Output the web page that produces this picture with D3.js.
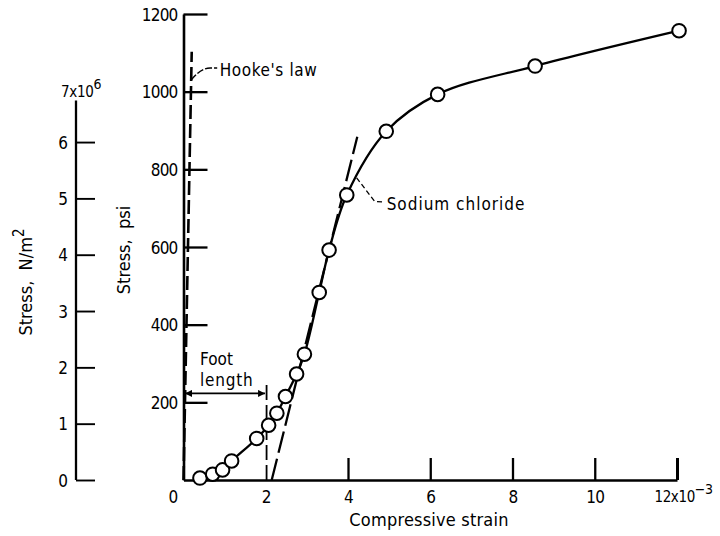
<!DOCTYPE html>
<html>
<head>
<meta charset="utf-8">
<script src="https://cdn.jsdelivr.net/npm/d3@7"></script>
<style>
  html, body { margin: 0; padding: 0; background: #fff; }
  svg { display: block; }
  text { font-family: "DejaVu Sans Condensed", "DejaVu Sans", sans-serif; fill: #000; }
</style>
</head>
<body>
<svg id="chart" width="720" height="536"></svg>
<script>
// ---- data ----
const strain = [0.40, 0.71, 0.95, 1.17, 1.78, 2.07, 2.27, 2.48, 2.75, 2.94, 3.30, 3.54, 3.97, 4.93, 6.18, 8.55, 12.05]; // x10^-3
const stress = [5, 15, 26, 49, 107, 141, 172, 215, 273, 324, 483, 592, 734, 898, 993, 1066, 1157]; // psi
const strainTicks = [0, 2, 4, 6, 8, 10, 12];
const psiTicks = [200, 400, 600, 800, 1000, 1200];
const paTicks = [0, 1, 2, 3, 4, 5, 6]; // x10^6 N/m^2
const hookeStrain = [0, 0.2];
const hookeStress = [0, 1103];
const tangentStrain = [2.145, 4.226];
const tangentStress = [0, 884];
const footLength = 2.02;     // x10^-3
const footArrowStress = 223; // psi
const footMarkTop = 245;     // psi
const PA_PER_PSI = 6894.76;

const FONT = "DejaVu Sans Condensed, DejaVu Sans, sans-serif";
const svg = d3.select("#chart");
svg.append("rect").attr("width", 720).attr("height", 536).attr("fill", "#fff");

const x = d3.scaleLinear().domain([0, 12]).range([183.5, 677]);
const y = d3.scaleLinear().domain([0, 1200]).range([480, 14]);
const yPa = d3.scaleLinear().domain([0, 7]).range([y(0), y(7e6 / PA_PER_PSI)]);

const lw = 2.3;
const fmt = d3.format("d");

// ---- psi axis ----
const gPsi = svg.append("g").attr("transform", `translate(${x(0)},0)`)
  .call(d3.axisLeft(y).tickValues(psiTicks).tickFormat(fmt).tickSizeInner(-24).tickSizeOuter(0).tickPadding(6));
gPsi.attr("font-family", FONT);
gPsi.select(".domain").attr("stroke", "#000").attr("stroke-width", 2.6);
gPsi.selectAll(".tick line").attr("stroke", "#000").attr("stroke-width", lw);
gPsi.selectAll(".tick text").attr("font-size", 17).attr("letter-spacing", -0.8).attr("dy", "0.36em");

// ---- N/m^2 axis ----
const gPa = svg.append("g").attr("transform", "translate(76,0)")
  .call(d3.axisLeft(yPa).tickValues(paTicks).tickFormat(fmt).tickSizeInner(-19).tickSizeOuter(0).tickPadding(8));
gPa.attr("font-family", FONT);
gPa.select(".domain").remove();
gPa.append("line").attr("x1", 0).attr("x2", 0).attr("y1", yPa(0)).attr("y2", yPa(6.74))
  .attr("stroke", "#000").attr("stroke-width", lw);
gPa.selectAll(".tick line").attr("stroke", "#000").attr("stroke-width", 1.9);
gPa.selectAll(".tick text").attr("font-size", 17).attr("dy", "0.36em");
const t7 = gPa.append("text").attr("x", -15).attr("y", 96.5).attr("text-anchor", "start")
  .attr("font-size", 15).attr("letter-spacing", -0.3);
t7.append("tspan").text("7x10");
t7.append("tspan").attr("dy", -8).attr("font-size", 14).text("6");

// ---- x axis ----
const gX = svg.append("g").attr("transform", `translate(0,${y(0)})`)
  .call(d3.axisBottom(x).tickValues(strainTicks).tickFormat(fmt).tickSizeInner(-22).tickSizeOuter(0).tickPadding(11));
gX.attr("font-family", FONT);
gX.select(".domain").attr("stroke", "#000").attr("stroke-width", lw);
gX.selectAll(".tick line").attr("stroke", "#000").attr("stroke-width", lw)
  .filter(d => d === 0 || d === 2).remove();
gX.selectAll(".tick text").attr("font-size", 17).attr("letter-spacing", -0.6);
gX.selectAll(".tick").filter(d => d === 0).select("text").attr("x", -11);
gX.selectAll(".tick").filter(d => d === 12).select("line").attr("stroke-width", 3);
const t12 = gX.selectAll(".tick").filter(d => d === 12).select("text");
t12.text(null).attr("text-anchor", "start").attr("x", -23).attr("font-size", 15).attr("letter-spacing", -0.4);
t12.append("tspan").text("12x10");
t12.append("tspan").attr("dy", -8).attr("font-size", 14).text("\u22123");

// ---- axis titles ----
svg.append("text").attr("transform", `translate(429,526)`).attr("text-anchor", "middle")
  .attr("font-size", 18).attr("letter-spacing", 0.2).text("Compressive strain");
svg.append("text").attr("transform", `translate(130,250) rotate(-90)`).attr("text-anchor", "middle")
  .attr("font-size", 18).attr("xml:space", "preserve").text("Stress,  psi");
const tPa = svg.append("text").attr("transform", `translate(32,282) rotate(-90)`).attr("text-anchor", "middle")
  .attr("font-size", 18).attr("xml:space", "preserve");
tPa.append("tspan").text("Stress,  N/m");
tPa.append("tspan").attr("dy", -8).attr("font-size", 15).text("2");

// ---- Hooke's law dashed line ----
const lineXY = (xs, ys) => d3.line().x((d, i) => x(xs[i])).y((d, i) => y(ys[i]))(xs);
svg.append("path").attr("d", lineXY(hookeStrain, hookeStress))
  .attr("fill", "none").attr("stroke", "#000").attr("stroke-width", 2.6).attr("stroke-dasharray", "14,5");

// ---- tangent dashed line ----
svg.append("path").attr("d", lineXY(tangentStrain, tangentStress))
  .attr("fill", "none").attr("stroke", "#000").attr("stroke-width", lw).attr("stroke-dasharray", "22,6");

// ---- foot length ----
const defs = svg.append("defs");
defs.append("marker").attr("id", "arr").attr("viewBox", "0 0 10 10").attr("refX", 10).attr("refY", 5)
  .attr("markerWidth", 12).attr("markerHeight", 7).attr("markerUnits", "userSpaceOnUse").attr("orient", "auto-start-reverse")
  .append("path").attr("d", "M0,0 L10,5 L0,10 Z").attr("fill", "#000");
svg.append("line").attr("x1", x(0) + 1.5).attr("x2", x(footLength) - 1.5)
  .attr("y1", y(footArrowStress)).attr("y2", y(footArrowStress))
  .attr("stroke", "#000").attr("stroke-width", 1.8)
  .attr("marker-start", "url(#arr)").attr("marker-end", "url(#arr)");
svg.append("line").attr("x1", x(footLength)).attr("x2", x(footLength))
  .attr("y1", y(0)).attr("y2", y(footMarkTop))
  .attr("stroke", "#000").attr("stroke-width", 1.8).attr("stroke-dasharray", "15,5");
svg.append("text").attr("x", 200).attr("y", 365).attr("font-size", 17).text("Foot");
svg.append("text").attr("x", 200).attr("y", 386).attr("font-size", 17).attr("letter-spacing", 0.8).text("length");

// ---- curve ----
svg.append("path")
  .attr("d", d3.line().x((d, i) => x(strain[i])).y((d, i) => y(stress[i])).curve(d3.curveCatmullRom.alpha(0.5))(strain))
  .attr("fill", "none").attr("stroke", "#000").attr("stroke-width", lw);

svg.append("g").selectAll("circle").data(strain).join("circle")
  .attr("cx", (d, i) => x(d)).attr("cy", (d, i) => y(stress[i])).attr("r", 6.8)
  .attr("fill", "#fff").attr("stroke", "#000").attr("stroke-width", 2);

// ---- annotations ----
// Hooke's law leader
const hx = x(0.187), hy = y(1030);
svg.append("path").attr("d", `M${hx},${hy} C${hx + 5},${hy - 6} ${hx + 11},${hy - 12} ${hx + 19},${hy - 12} L${hx + 26},${hy - 12}`)
  .attr("fill", "none").attr("stroke", "#000").attr("stroke-width", 1.5).attr("stroke-dasharray", "7,2");
svg.append("text").attr("x", hx + 28.5).attr("y", hy - 4.5).attr("font-size", 17).attr("letter-spacing", 0.6).text("Hooke's law");

// Sodium chloride leader
const sx = x(4.21), sy = y(778);
svg.append("path").attr("d", `M${sx},${sy} L${sx + 18},${sy + 23.5} L${sx + 26},${sy + 24}`)
  .attr("fill", "none").attr("stroke", "#000").attr("stroke-width", 1.3).attr("stroke-dasharray", "5,3");
svg.append("text").attr("x", sx + 30).attr("y", sy + 32).attr("font-size", 17).attr("letter-spacing", 1.0).text("Sodium chloride");
</script>
</body>
</html>
